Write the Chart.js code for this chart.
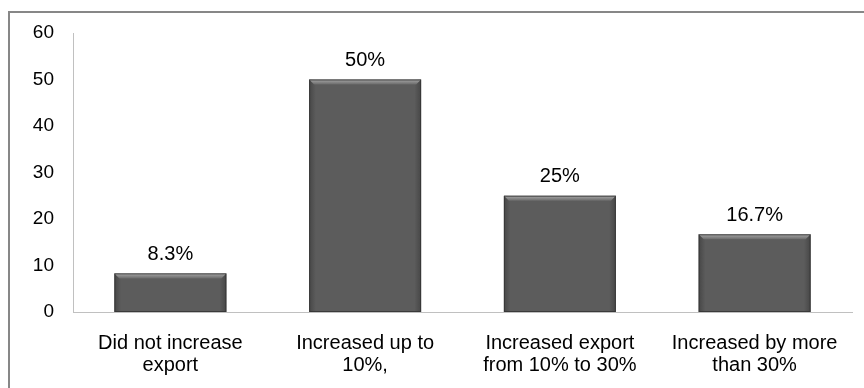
<!DOCTYPE html>
<html lang="en">
<head>
  <meta charset="UTF-8">
  <title>Export increase</title>
  <script src="https://cdn.jsdelivr.net/npm/chart.js"></script>
  <style>
    body { margin: 0; background: #fff; overflow: hidden; }
    #frame { position: absolute; left: 8px; top: 11px; width: 900px; height: 420px; border: 2px solid #878787; }
    #exportChart { position: absolute; left: 0; top: 0; }
  </style>
</head>
<body>
  <div id="frame"></div>
  <canvas id="exportChart" width="864" height="388"></canvas>

  <script>
    const categories = [
      ['Did not increase', 'export'],
      ['Increased up to', '10%,'],
      ['Increased export', 'from 10% to 30%'],
      ['Increased by more', 'than 30%']
    ];
    const shares = [8.3, 50, 25, 16.7];
    const valueLabels = ['8.3%', '50%', '25%', '16.7%'];
    const yTicks = [0, 10, 20, 30, 40, 50, 60];

    const font = 'Liberation Sans, Arial, sans-serif';

    // bevel look of the Excel bars + the value labels on top
    const barDecor = {
      id: 'barDecor',
      afterDatasetsDraw(chart) {
        const ctx = chart.ctx;
        const meta = chart.getDatasetMeta(0);
        meta.data.forEach((bar, i) => {
          const left = bar.x - bar.width / 2;
          const right = bar.x + bar.width / 2;
          const top = bar.y;
          const base = bar.base;
          const b = 5;
          ctx.save();
          // soft darker sides
          const side = ctx.createLinearGradient(left, 0, right, 0);
          side.addColorStop(0, 'rgba(30,30,30,0.35)');
          side.addColorStop(0.06, 'rgba(30,30,30,0)');
          side.addColorStop(0.94, 'rgba(30,30,30,0)');
          side.addColorStop(1, 'rgba(30,30,30,0.35)');
          ctx.fillStyle = side;
          ctx.fillRect(left, top, bar.width, base - top);
          // top highlight
          const g = ctx.createLinearGradient(0, top, 0, top + b);
          g.addColorStop(0, '#a8a8a8');
          g.addColorStop(1, '#6a6a6a');
          ctx.fillStyle = g;
          ctx.beginPath();
          ctx.moveTo(left, top); ctx.lineTo(right, top);
          ctx.lineTo(right - b, top + b); ctx.lineTo(left + b, top + b); ctx.closePath();
          ctx.fill();
          ctx.strokeStyle = 'rgba(50,50,50,0.8)';
          ctx.lineWidth = 1;
          ctx.strokeRect(left + 0.5, top + 0.5, bar.width - 1, base - top - 1);
          // value label
          ctx.fillStyle = '#000';
          ctx.font = '20px ' + font;
          ctx.textAlign = 'center';
          ctx.textBaseline = 'middle';
          ctx.fillText(valueLabels[i], bar.x, top - 19);
          ctx.restore();
        });
      }
    };

    new Chart(document.getElementById('exportChart').getContext('2d'), {
      type: 'bar',
      data: {
        labels: categories,
        datasets: [{
          data: shares,
          backgroundColor: '#5c5c5c',
          borderWidth: 0,
          categoryPercentage: 1,
          barPercentage: 0.575
        }]
      },
      options: {
        responsive: false,
        animation: false,
        layout: { padding: { left: 10, right: 12, top: 33, bottom: 0 } },
        plugins: {
          legend: { display: false },
          tooltip: { enabled: false }
        },
        scales: {
          x: {
            grid: { display: false, drawTicks: false },
            border: { display: true, color: '#c0c0c0', width: 1 },
            ticks: { color: '#000', padding: 21, maxRotation: 0, font: { family: font, size: 20, lineHeight: 1.08 } },
            afterFit(scale) { scale.height = 76; }
          },
          y: {
            min: 0,
            max: 60,
            afterBuildTicks(scale) { scale.ticks = yTicks.map(v => ({ value: v })); },
            grid: { display: false, drawTicks: false },
            border: { display: true, color: '#c0c0c0', width: 1 },
            ticks: { color: '#000', padding: 19, font: { family: font, size: 19 } },
            afterFit(scale) { scale.width = 63; }
          }
        }
      },
      plugins: [barDecor]
    });
  </script>
</body>
</html>
